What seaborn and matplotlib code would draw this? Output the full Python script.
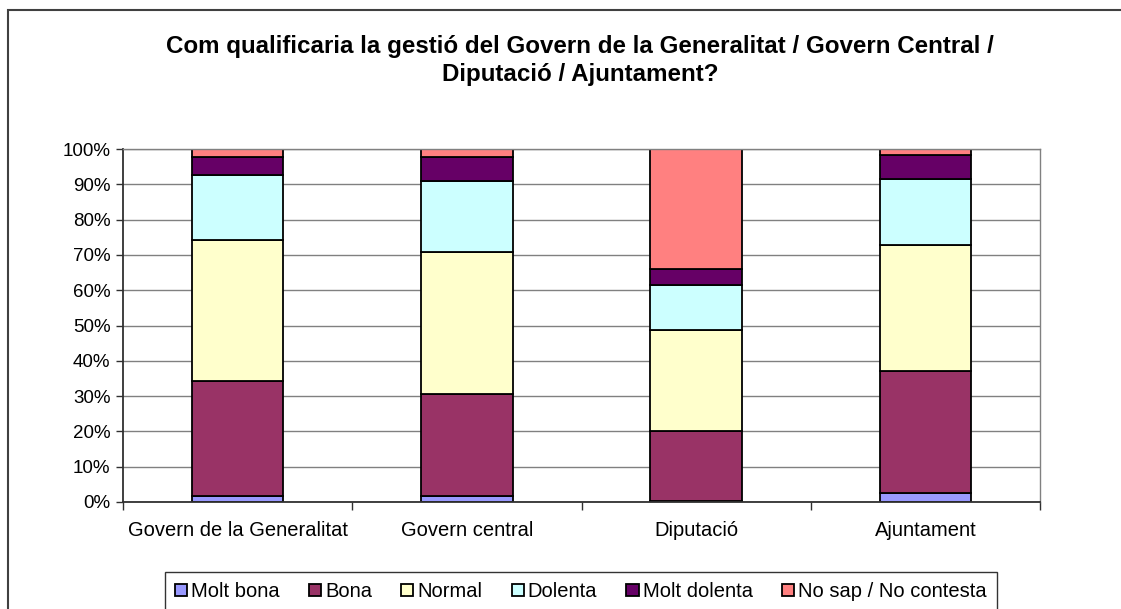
import matplotlib
matplotlib.use("Agg")
import matplotlib.pyplot as plt
import seaborn as sns
import numpy as np
from matplotlib.patches import Rectangle
from matplotlib.ticker import MultipleLocator, FuncFormatter

# data (percent)
categories = ["Govern de la Generalitat", "Govern central", "Diputació", "Ajuntament"]
series = ["Molt bona", "Bona", "Normal", "Dolenta", "Molt dolenta", "No sap / No contesta"]
molt_bona = [1.6, 1.6, 0.3, 2.5]
bona = [32.6, 29.1, 19.9, 34.5]
normal = [40.1, 40.2, 28.6, 35.9]
dolenta = [18.2, 20.0, 12.7, 18.5]
molt_dolenta = [5.3, 6.8, 4.6, 6.8]
no_sap = [2.2, 2.3, 33.9, 1.8]
colors = ["#9999FF", "#993366", "#FFFFCC", "#CCFFFF", "#660066", "#FF8080"]

sns.set_theme(style="white")
plt.rcParams["font.family"] = ["Liberation Sans", "DejaVu Sans"]
plt.rcParams["text.color"] = "black"

fig = plt.figure(figsize=(11.21, 6.09), dpi=100)
ax = fig.add_axes([123 / 1121, 1 - 502 / 609, 917 / 1121, 353 / 609])

layers = [molt_bona, bona, normal, dolenta, molt_dolenta, no_sap]
bottom = np.zeros(len(categories))
for name, vals, col in zip(series, layers, colors):
    sns.barplot(x=categories, y=vals, bottom=bottom, color=col, width=0.4,
                edgecolor="black", linewidth=1.3, errorbar=None, ax=ax,
                label=name, saturation=1, legend=False)
    bottom = bottom + np.array(vals)

handles, labels = ax.get_legend_handles_labels()
if ax.get_legend() is not None:
    ax.get_legend().remove()

ax.set_xlim(-0.5, 3.5)
ax.set_ylim(0, 100)
ax.yaxis.set_major_locator(MultipleLocator(10))
ax.yaxis.set_major_formatter(FuncFormatter(lambda v, p: f"{v:.0f}%"))
ax.grid(True, axis="y", color="#808080", linewidth=1)
ax.set_axisbelow(True)
ax.set_xlabel("")
ax.set_ylabel("")

for side in ["top", "right"]:
    ax.spines[side].set_color("#808080")
    ax.spines[side].set_linewidth(1)
for side in ["left", "bottom"]:
    ax.spines[side].set_color("#303030")
    ax.spines[side].set_linewidth(1.3)

ax.tick_params(axis="y", left=True, length=5, width=1, color="#303030",
               labelsize=13.5, pad=4, labelcolor="black")
ax.set_xticks(np.arange(-0.5, 4, 1), minor=True)
ax.tick_params(axis="x", which="major", bottom=False, length=0,
               labelsize=14.5, pad=14, labelcolor="black")
ax.tick_params(axis="x", which="minor", bottom=True, length=6, width=1,
               color="#303030")

fig.text(580 / 1121, 1 - 46 / 609,
         "Com qualificaria la gestió del Govern de la Generalitat / Govern Central /",
         ha="center", va="center", fontsize=17.4, fontweight="bold", color="black")
fig.text(580 / 1121, 1 - 74 / 609, "Diputació / Ajuntament?",
         ha="center", va="center", fontsize=17.4, fontweight="bold", color="black")

# outer chart border
fig.patches.append(Rectangle((8 / 1121, -0.05), 1.2, 1 - 10 / 609 + 0.05,
                             transform=fig.transFigure, fill=False,
                             edgecolor="#404040", linewidth=1.5))

leg = fig.legend(handles, labels, loc="upper left", ncol=6,
                 bbox_to_anchor=(165 / 1121, 1 - 572 / 609), frameon=True,
                 fontsize=14.5, handlelength=0.6, handleheight=0.6,
                 handletextpad=0.2, columnspacing=1.45, borderpad=0.5,
                 borderaxespad=0, fancybox=False, edgecolor="black")
leg.get_frame().set_linewidth(1)
for t in leg.get_texts():
    t.set_color("black")

fig.savefig("out.png", dpi=100)
